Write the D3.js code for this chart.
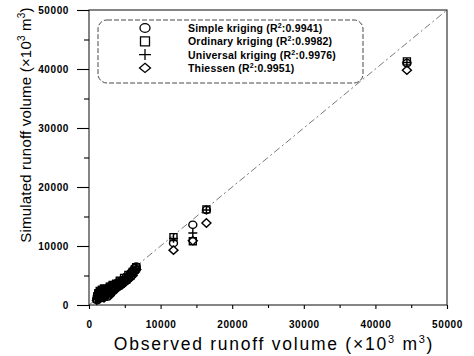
<!DOCTYPE html>
<html>
<head>
<meta charset="utf-8">
<script src="https://cdn.jsdelivr.net/npm/d3@7"></script>
<style>
  body { margin: 0; background: #fff; }
  text { font-family: Arial, "Liberation Sans", sans-serif; fill: #000; }
</style>
</head>
<body>
<svg id="chart" width="474" height="356"></svg>
<script>
const svg = d3.select("#chart");

// observed runoff volume (x10^3 m3), shared by every method
const observed = [1100, 1200, 1300, 1400, 1500, 1600, 1700, 1800, 2000, 2100, 2300, 2500, 2700, 2900,
  3100, 3300, 3500, 3800, 4000, 4300, 4600, 4900, 5200, 5500, 5800, 6100, 6400, 6600,
  11800, 14500, 16400, 44400];

const simpleKriging = [900, 1800, 1300, 2200, 1600, 2000, 2500, 1200, 2700, 1500, 2400, 1400, 2900, 2000,
  3300, 2500, 3500, 3000, 3800, 3500, 4200, 4000, 4800, 4700, 5400, 5800, 6300, 6500,
  10500, 13600, 16100, 41000];
const ordinaryKriging = [1000, 1500, 2000, 1200, 2400, 1400, 1900, 2600, 1600, 2800, 1900, 2700, 2200, 3100,
  2600, 3400, 2900, 3600, 3300, 4100, 3800, 4600, 4300, 5100, 5000, 5600, 6000, 6400,
  11500, 10800, 16200, 41300];
const universalKriging = [1100, 1600, 1000, 2000, 1300, 2300, 1700, 2100, 1300, 2500, 1700, 3000, 1800, 2600,
  2300, 3000, 2700, 3300, 3000, 3800, 3600, 4400, 4500, 4900, 5200, 5400, 5900, 6200,
  11300, 12200, 16100, 41100];
const thiessen = [800, 1300, 1700, 1000, 1900, 1200, 2200, 1500, 2400, 1200, 2100, 1800, 2500, 1600,
  2000, 2800, 2400, 2700, 3100, 3200, 3400, 3700, 4100, 4300, 4700, 5000, 5600, 6000,
  9300, 10900, 13900, 39800];

const seriesNames = ["Simple kriging", "Ordinary kriging", "Universal kriging", "Thiessen"];
const r2Values = ["0.9941", "0.9982", "0.9976", "0.9951"];
const symbolTypes = ["circle", "square", "plus", "diamond"];
const seriesValues = [simpleKriging, ordinaryKriging, universalKriging, thiessen];

const majorTicks = [0, 10000, 20000, 30000, 40000, 50000];
const minorTicks = [5000, 15000, 25000, 35000, 45000];

const x = d3.scaleLinear().domain([0, 50000]).range([89, 447]);
const y = d3.scaleLinear().domain([0, 50000]).range([305, 10]);

// marker path generator
function marker(type) {
  if (type === "circle") return "M-4,0a4,3.6 0 1,0 8,0a4,3.6 0 1,0 -8,0";
  if (type === "square") return "M-3.5,-3.5h7v7h-7z";
  if (type === "plus") return "M-4.5,0h9M0,-4.5v9";
  return "M0,-4.2L4.5,0L0,4.2L-4.5,0z";
}

// 1:1 line
svg.append("line")
  .attr("x1", x(0)).attr("y1", y(0))
  .attr("x2", x(50000)).attr("y2", y(50000))
  .attr("stroke", "#555").attr("stroke-width", 0.8)
  .attr("stroke-dasharray", "7,3,2,3");

// points
seriesValues.forEach((vals, i) => {
  svg.append("g").selectAll("path")
    .data(vals.map((v, j) => ({ obs: observed[j], sim: v })))
    .join("path")
    .attr("transform", d => `translate(${x(d.obs)},${y(d.sim)})`)
    .attr("d", marker(symbolTypes[i]))
    .attr("fill", "none")
    .attr("stroke", "#000")
    .attr("stroke-width", 1.4);
});

// frame
svg.append("rect")
  .attr("x", x(0)).attr("y", y(50000))
  .attr("width", x(50000) - x(0)).attr("height", y(0) - y(50000))
  .attr("fill", "none").attr("stroke", "#222").attr("stroke-width", 1.1);

// axes
const xAxis = svg.append("g").attr("transform", `translate(0,${y(0)})`)
  .call(d3.axisBottom(x).tickValues(majorTicks).tickFormat(d3.format("d")).tickSize(4).tickPadding(12));
const yAxis = svg.append("g").attr("transform", `translate(${x(0)},0)`)
  .call(d3.axisLeft(y).tickValues(majorTicks).tickFormat(d3.format("d")).tickSize(12).tickPadding(8));
svg.append("g").attr("transform", `translate(0,${y(0)})`)
  .call(d3.axisBottom(x).tickValues(minorTicks).tickFormat("").tickSize(3));
svg.append("g").attr("transform", `translate(${x(0)},0)`)
  .call(d3.axisLeft(y).tickValues(minorTicks).tickFormat("").tickSize(5));

svg.selectAll(".domain").remove();
svg.selectAll(".tick line").attr("stroke", "#000").attr("stroke-width", 1.1);
[xAxis, yAxis].forEach(a => a.selectAll(".tick text")
  .attr("font-size", 10).attr("font-weight", "bold")
  .attr("letter-spacing", 0.6)
  .attr("font-family", "Arial, 'Liberation Sans', sans-serif"));

// axis titles
const xt = svg.append("text")
  .attr("x", 274).attr("y", 350)
  .attr("text-anchor", "middle")
  .attr("font-size", 17.5).attr("letter-spacing", 1.75);
xt.append("tspan").text("Observed runoff volume (\u00d710");
xt.append("tspan").attr("font-size", 11).attr("dy", -7).text("3");
xt.append("tspan").attr("dy", 7).text(" m");
xt.append("tspan").attr("font-size", 11).attr("dy", -7).text("3");
xt.append("tspan").attr("dy", 7).text(")");

const yt = svg.append("text")
  .attr("transform", "translate(31,125) rotate(-90)")
  .attr("text-anchor", "middle")
  .attr("font-size", 15).attr("letter-spacing", 0.2);
yt.append("tspan").text("Simulated runoff volume (\u00d710");
yt.append("tspan").attr("font-size", 10).attr("dy", -6).text("3");
yt.append("tspan").attr("dy", 6).text(" m");
yt.append("tspan").attr("font-size", 10).attr("dy", -6).text("3");
yt.append("tspan").attr("dy", 6).text(")");

// legend
const legend = svg.append("g");
legend.append("rect")
  .attr("x", 98).attr("y", 20).attr("width", 265).attr("height", 63)
  .attr("rx", 9).attr("ry", 9)
  .attr("fill", "#fff").attr("stroke", "#333").attr("stroke-width", 0.9)
  .attr("stroke-dasharray", "5,2");

const rows = legend.selectAll("g.row")
  .data(seriesNames.map((n, i) => ({ name: n, r2: r2Values[i], type: symbolTypes[i] })))
  .join("g")
  .attr("class", "row")
  .attr("transform", (d, i) => `translate(0,${28 + i * 13.3})`);
rows.append("path")
  .attr("transform", "translate(145,0)")
  .attr("d", d => d.type === "circle" ? "M-5,0a5,4.3 0 1,0 10,0a5,4.3 0 1,0 -10,0"
    : d.type === "square" ? "M-4.5,-4.5h9v9h-9z"
    : d.type === "plus" ? "M-6,0h12M0,-5.5v11"
    : "M0,-4.6L5.5,0L0,4.6L-5.5,0z")
  .attr("fill", "none").attr("stroke", "#000").attr("stroke-width", 1.3);
const lt = rows.append("text")
  .attr("x", 188).attr("y", 4)
  .attr("font-size", 10.5).attr("font-weight", "bold").attr("letter-spacing", 0.2);
lt.append("tspan").text(d => d.name + " (R");
lt.append("tspan").attr("font-size", 7).attr("dy", -4).text("2");
lt.append("tspan").attr("dy", 4).text(d => ":" + d.r2 + ")");
</script>
</body>
</html>
